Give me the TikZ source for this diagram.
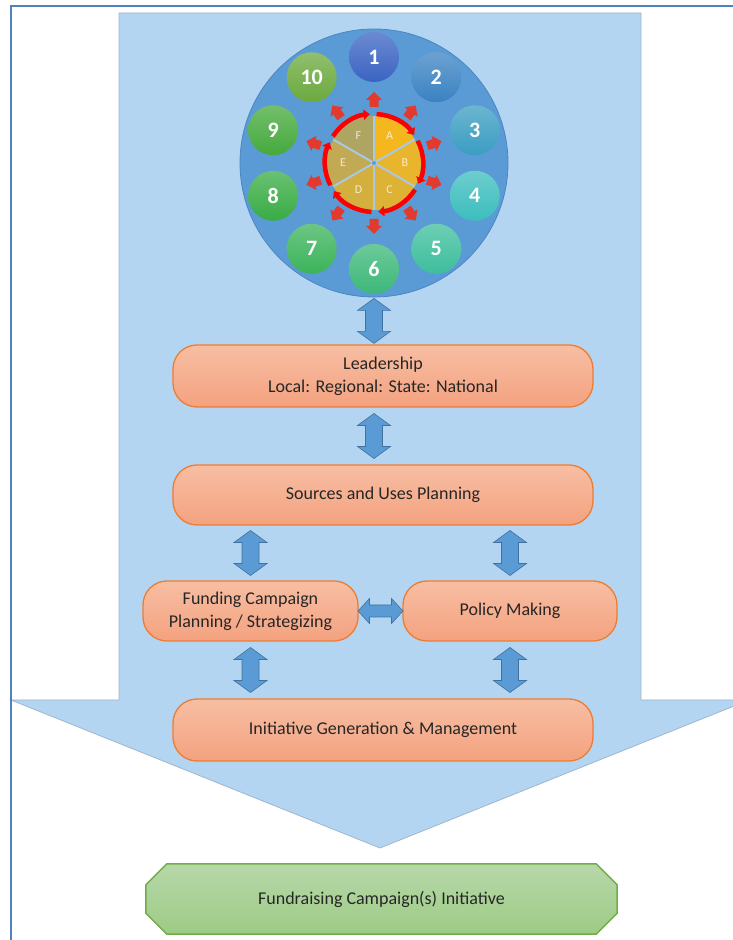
\documentclass[tikz,border=0pt]{standalone}
\usepackage{fontspec}
\setmainfont{Carlito}
\usetikzlibrary{calc,arrows.meta}
\definecolor{bordc}{HTML}{4F81BD}
\definecolor{bigarrow}{HTML}{B4D5F2}
\definecolor{bigarrowline}{HTML}{9FB6CC}
\definecolor{bigblue}{HTML}{5B9BD5}
\definecolor{bigblueline}{HTML}{4A86C0}
\definecolor{arrfill}{HTML}{5B9BD5}
\definecolor{arrline}{HTML}{41719C}
\definecolor{boxtop}{HTML}{F7BEA3}
\definecolor{boxbot}{HTML}{F4A27F}
\definecolor{boxline}{HTML}{ED7D31}
\definecolor{octtop}{HTML}{B7D8A9}
\definecolor{octbot}{HTML}{9DCB85}
\definecolor{octline}{HTML}{70AD47}
\definecolor{txtc}{HTML}{262626}
\definecolor{nA}{HTML}{3A63C2}
\definecolor{nB}{HTML}{3A82C2}
\definecolor{nC}{HTML}{3A9DC2}
\definecolor{nD}{HTML}{3CBDBD}
\definecolor{nE}{HTML}{3DBE9C}
\definecolor{nF}{HTML}{3CB878}
\definecolor{nG}{HTML}{3BB35A}
\definecolor{nH}{HTML}{38AC44}
\definecolor{nI}{HTML}{45A93C}
\definecolor{nJ}{HTML}{6BA93D}
\definecolor{pA}{HTML}{F4B81E}
\definecolor{pB}{HTML}{E9B52C}
\definecolor{pC}{HTML}{DDB235}
\definecolor{pD}{HTML}{D3AF3E}
\definecolor{pE}{HTML}{C2AA55}
\definecolor{pF}{HTML}{AFA563}
\definecolor{sepc}{HTML}{A9C8E6}
\definecolor{redarr}{HTML}{E23A2E}
\tikzset{
  box/.style={rectangle, rounded corners=24pt, draw=boxline, line width=1.3pt,
    top color=boxtop, bottom color=boxbot, text=txtc, align=center, inner sep=0pt,
    font=\fontsize{18}{23}\selectfont},
  numc/.style={circle, minimum size=50pt, inner sep=0pt, text=white,
    font=\fontsize{22}{22}\selectfont\bfseries},
  dblfill/.style={fill=arrfill, draw=arrline, line width=0.6pt, line join=miter},
  vdbl/.style={dblfill, to path={($(\tikztostart)!0.5!(\tikztotarget)$)
    +(0,22.5) -- +(16.5,10.5) -- +(8.5,10.5) -- +(8.5,-10.5) -- +(16.5,-10.5)
    -- +(0,-22.5) -- +(-16.5,-10.5) -- +(-8.5,-10.5) -- +(-8.5,10.5) -- +(-16.5,10.5) -- cycle}},
  hdbl/.style={dblfill, to path={($(\tikztostart)!0.5!(\tikztotarget)$)
    +(-22.5,0) -- +(-11,12.5) -- +(-11,6) -- +(11,6) -- +(11,12.5)
    -- +(22.5,0) -- +(11,-12.5) -- +(11,-6) -- +(-11,-6) -- +(-11,-12.5) -- cycle}},
  redring/.style={draw=red, line width=4.5pt, -{Triangle[length=6pt,width=10pt]}},
  sepline/.style={draw=sepc, line width=2pt},
  pielab/.style={text=white, text opacity=0.75, font=\fontsize{12}{12}\selectfont, inner sep=0pt},
}
\begin{document}
\begin{tikzpicture}[x=1pt,y=1pt]
\clip (0,0) rectangle (733,940);
\fill[white] (0,0) rectangle (733,940);
% big arrow
\draw[fill=bigarrow, draw=bigarrowline, line width=0.8pt]
  (119,927) -- (641,927) -- (641,240) -- (749,240) -- (380,92) -- (11,240) -- (119,240) -- cycle;
% big circle
\node[circle, fill=bigblue, draw=bigblueline, line width=0.8pt, minimum size=268pt, inner sep=0pt] (circ) at (374,777) {};
% numbered circles
\foreach \i/\c in {1/nA,2/nB,3/nC,4/nD,5/nE,6/nF,7/nG,8/nH,9/nI,10/nJ}
  \node[numc, top color=\c!75!white, bottom color=\c] (n\i) at ($(circ.center)+({90-36*(\i-1)}:106)$) {\i};
% pie
\foreach \k/\c in {0/pA,1/pB,2/pC,3/pD,4/pE,5/pF}
  \fill[\c] (circ.center) -- ++({90-60*\k}:47) arc[start angle={90-60*\k}, end angle={30-60*\k}, radius=47] -- cycle;
\foreach \a in {90,30,-30}
  \draw[sepline] ($(circ.center)+(\a:47)$) -- ($(circ.center)+(\a+180:47)$);
\fill[bigblue] (circ.center) circle (2pt);
\foreach \k/\l in {0/A,1/B,2/C,3/D,4/E,5/F}
  \node[pielab] (p\l) at ($(circ.center)+({60-60*\k}:31)$) {\l};
% red ring arcs
\foreach \s in {150,90,30,-30,-90,-150}
  \draw[redring] ($(circ.center)+(\s-3:49)$) arc[start angle=\s-3, end angle=\s-55, radius=49];
% small red arrows
\foreach \a in {90,54,18,-18,-54,-90,-126,-162,162,126}
  \fill[redarr, shift={(circ.center)}, rotate=\a]
    (56,-4.5) -- (63,-4.5) -- (63,-8) -- (71,0) -- (63,8) -- (63,4.5) -- (56,4.5) -- cycle;
% boxes
\node[box, minimum width=420pt, minimum height=62pt] (lead) at (383,564) {Leadership\\Local: Regional: State: National};
\node[box, minimum width=420pt, minimum height=60pt] (src) at (383,445) {Sources and Uses Planning};
\node[box, minimum width=215pt, minimum height=60pt] (fund) at (250.5,329) {Funding Campaign\\Planning / Strategizing};
\node[box, minimum width=214pt, minimum height=60pt] (pol) at (510,329) {Policy Making};
\node[box, minimum width=420pt, minimum height=62pt] (init) at (383,210) {Initiative Generation \& Management};
% octagon
\node[rectangle, minimum width=471pt, minimum height=70pt, inner sep=0pt] (fr) at (381.5,41) {};
\draw[top color=octtop, bottom color=octbot, draw=octline, line width=1.5pt]
  ($(fr.north west)+(21,0)$) -- ($(fr.north east)+(-21,0)$) -- ($(fr.north east)+(0,-21)$)
  -- ($(fr.south east)+(0,21)$) -- ($(fr.south east)+(-21,0)$) -- ($(fr.south west)+(21,0)$)
  -- ($(fr.south west)+(0,21)$) -- ($(fr.north west)+(0,-21)$) -- cycle;
\node[text=txtc, font=\fontsize{18}{22}\selectfont] (frtext) at (fr.center) {Fundraising Campaign(s) Initiative};
% connectors
\path[vdbl] (circ.south) to (circ.south |- lead.north);
\path[vdbl] (lead.south -| circ.south) to (src.north -| circ.south);
\path[vdbl] (src.south -| fund.north) to (fund.north);
\path[vdbl] (src.south -| pol.north) to (pol.north);
\path[hdbl] (fund.east) to (pol.west);
\path[vdbl] (fund.south) to (fund.south |- init.north);
\path[vdbl] (pol.south) to (pol.south |- init.north);
% border
\draw[bordc, line width=2.2pt] (11,0) -- (11,934) -- (733,934);
\end{tikzpicture}
\end{document}
